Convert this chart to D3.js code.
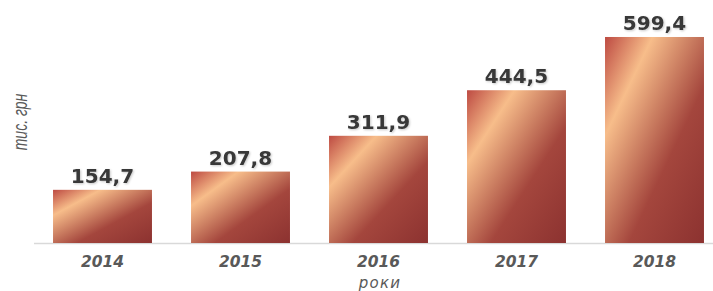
<!DOCTYPE html>
<meta charset="utf-8">
<script src="https://cdn.jsdelivr.net/npm/d3@7"></script>
<style>
body { margin: 0; background: #fff; }
text { font-family: "DejaVu Sans", Verdana, sans-serif; }
.val { font-size: 20px; font-weight: bold; fill: #383838; }
.year { font-size: 15.5px; font-weight: bold; font-style: italic; fill: #595959; }
.title { font-size: 15px; font-style: italic; fill: #595959; letter-spacing: 1.2px; }
.ylab { font-family: "Liberation Sans", Arial, sans-serif; font-size: 20px; font-style: italic; fill: #595959; }
</style>
<body>
<script>

var years = ["2014", "2015", "2016", "2017", "2018"];
var values = [154.7, 207.8, 311.9, 444.5, 599.4];
var labels = ["154,7", "207,8", "311,9", "444,5", "599,4"];

var width = 713,
    height = 291,
    baseline = 243;

var svg = d3.select("body").append("svg")
    .attr("width", width)
    .attr("height", height);

var defs = svg.append("defs");

var grad = defs.append("linearGradient")
    .attr("id", "barFill")
    .attr("x1", 0).attr("y1", 0)
    .attr("x2", 1).attr("y2", 1);
grad.append("stop").attr("offset", 0).attr("stop-color", "#bd4a42");
grad.append("stop").attr("offset", 0.24).attr("stop-color", "#f7bd8a");
grad.append("stop").attr("offset", 0.62).attr("stop-color", "#a4463d");
grad.append("stop").attr("offset", 1).attr("stop-color", "#8c3230");

// soft shadow under the value labels
var shadow = defs.append("filter")
    .attr("id", "shadow")
    .attr("x", "-10%").attr("y", "-20%")
    .attr("width", "120%").attr("height", "150%");
shadow.append("feDropShadow")
    .attr("dx", 1).attr("dy", 1)
    .attr("stdDeviation", 1)
    .attr("flood-color", "#000")
    .attr("flood-opacity", 0.22);

var x = d3.scaleBand()
    .domain(years)
    .range([33.5, 723.5])
    .paddingInner(0.283)
    .paddingOuter(0.1415);

var y = d3.scaleLinear()
    .domain([0, 700])
    .range([baseline, baseline - 700 * 0.3437]);

// baseline
svg.append("line")
    .attr("x1", 34).attr("x2", 713)
    .attr("y1", baseline + 0.5).attr("y2", baseline + 0.5)
    .attr("stroke", "#d9d9d9")
    .attr("stroke-width", 1.5);

svg.append("g")
    .selectAll("rect")
    .data(values)
    .enter().append("rect")
    .attr("x", function(d, i) { return x(years[i]); })
    .attr("y", function(d) { return y(d); })
    .attr("width", x.bandwidth())
    .attr("height", function(d) { return baseline - y(d); })
    .attr("fill", "url(#barFill)");

svg.append("g")
    .selectAll("text")
    .data(values)
    .enter().append("text")
    .attr("class", "val")
    .attr("x", function(d, i) { return x(years[i]) + x.bandwidth() / 2; })
    .attr("y", function(d) { return y(d) - 7; })
    .attr("text-anchor", "middle")
    .attr("filter", "url(#shadow)")
    .text(function(d, i) { return labels[i]; });

svg.append("g")
    .selectAll("text")
    .data(years)
    .enter().append("text")
    .attr("class", "year")
    .attr("x", function(d) { return x(d) + x.bandwidth() / 2; })
    .attr("y", 267)
    .attr("text-anchor", "middle")
    .text(function(d) { return d; });

svg.append("text")
    .attr("class", "title")
    .attr("x", 380)
    .attr("y", 288)
    .attr("text-anchor", "middle")
    .text("роки");

svg.append("text")
    .attr("class", "ylab")
    .attr("transform", "translate(27,122) rotate(-90) scale(0.7,1)")
    .attr("text-anchor", "middle")
    .text("тис. грн");

</script>
</body>
